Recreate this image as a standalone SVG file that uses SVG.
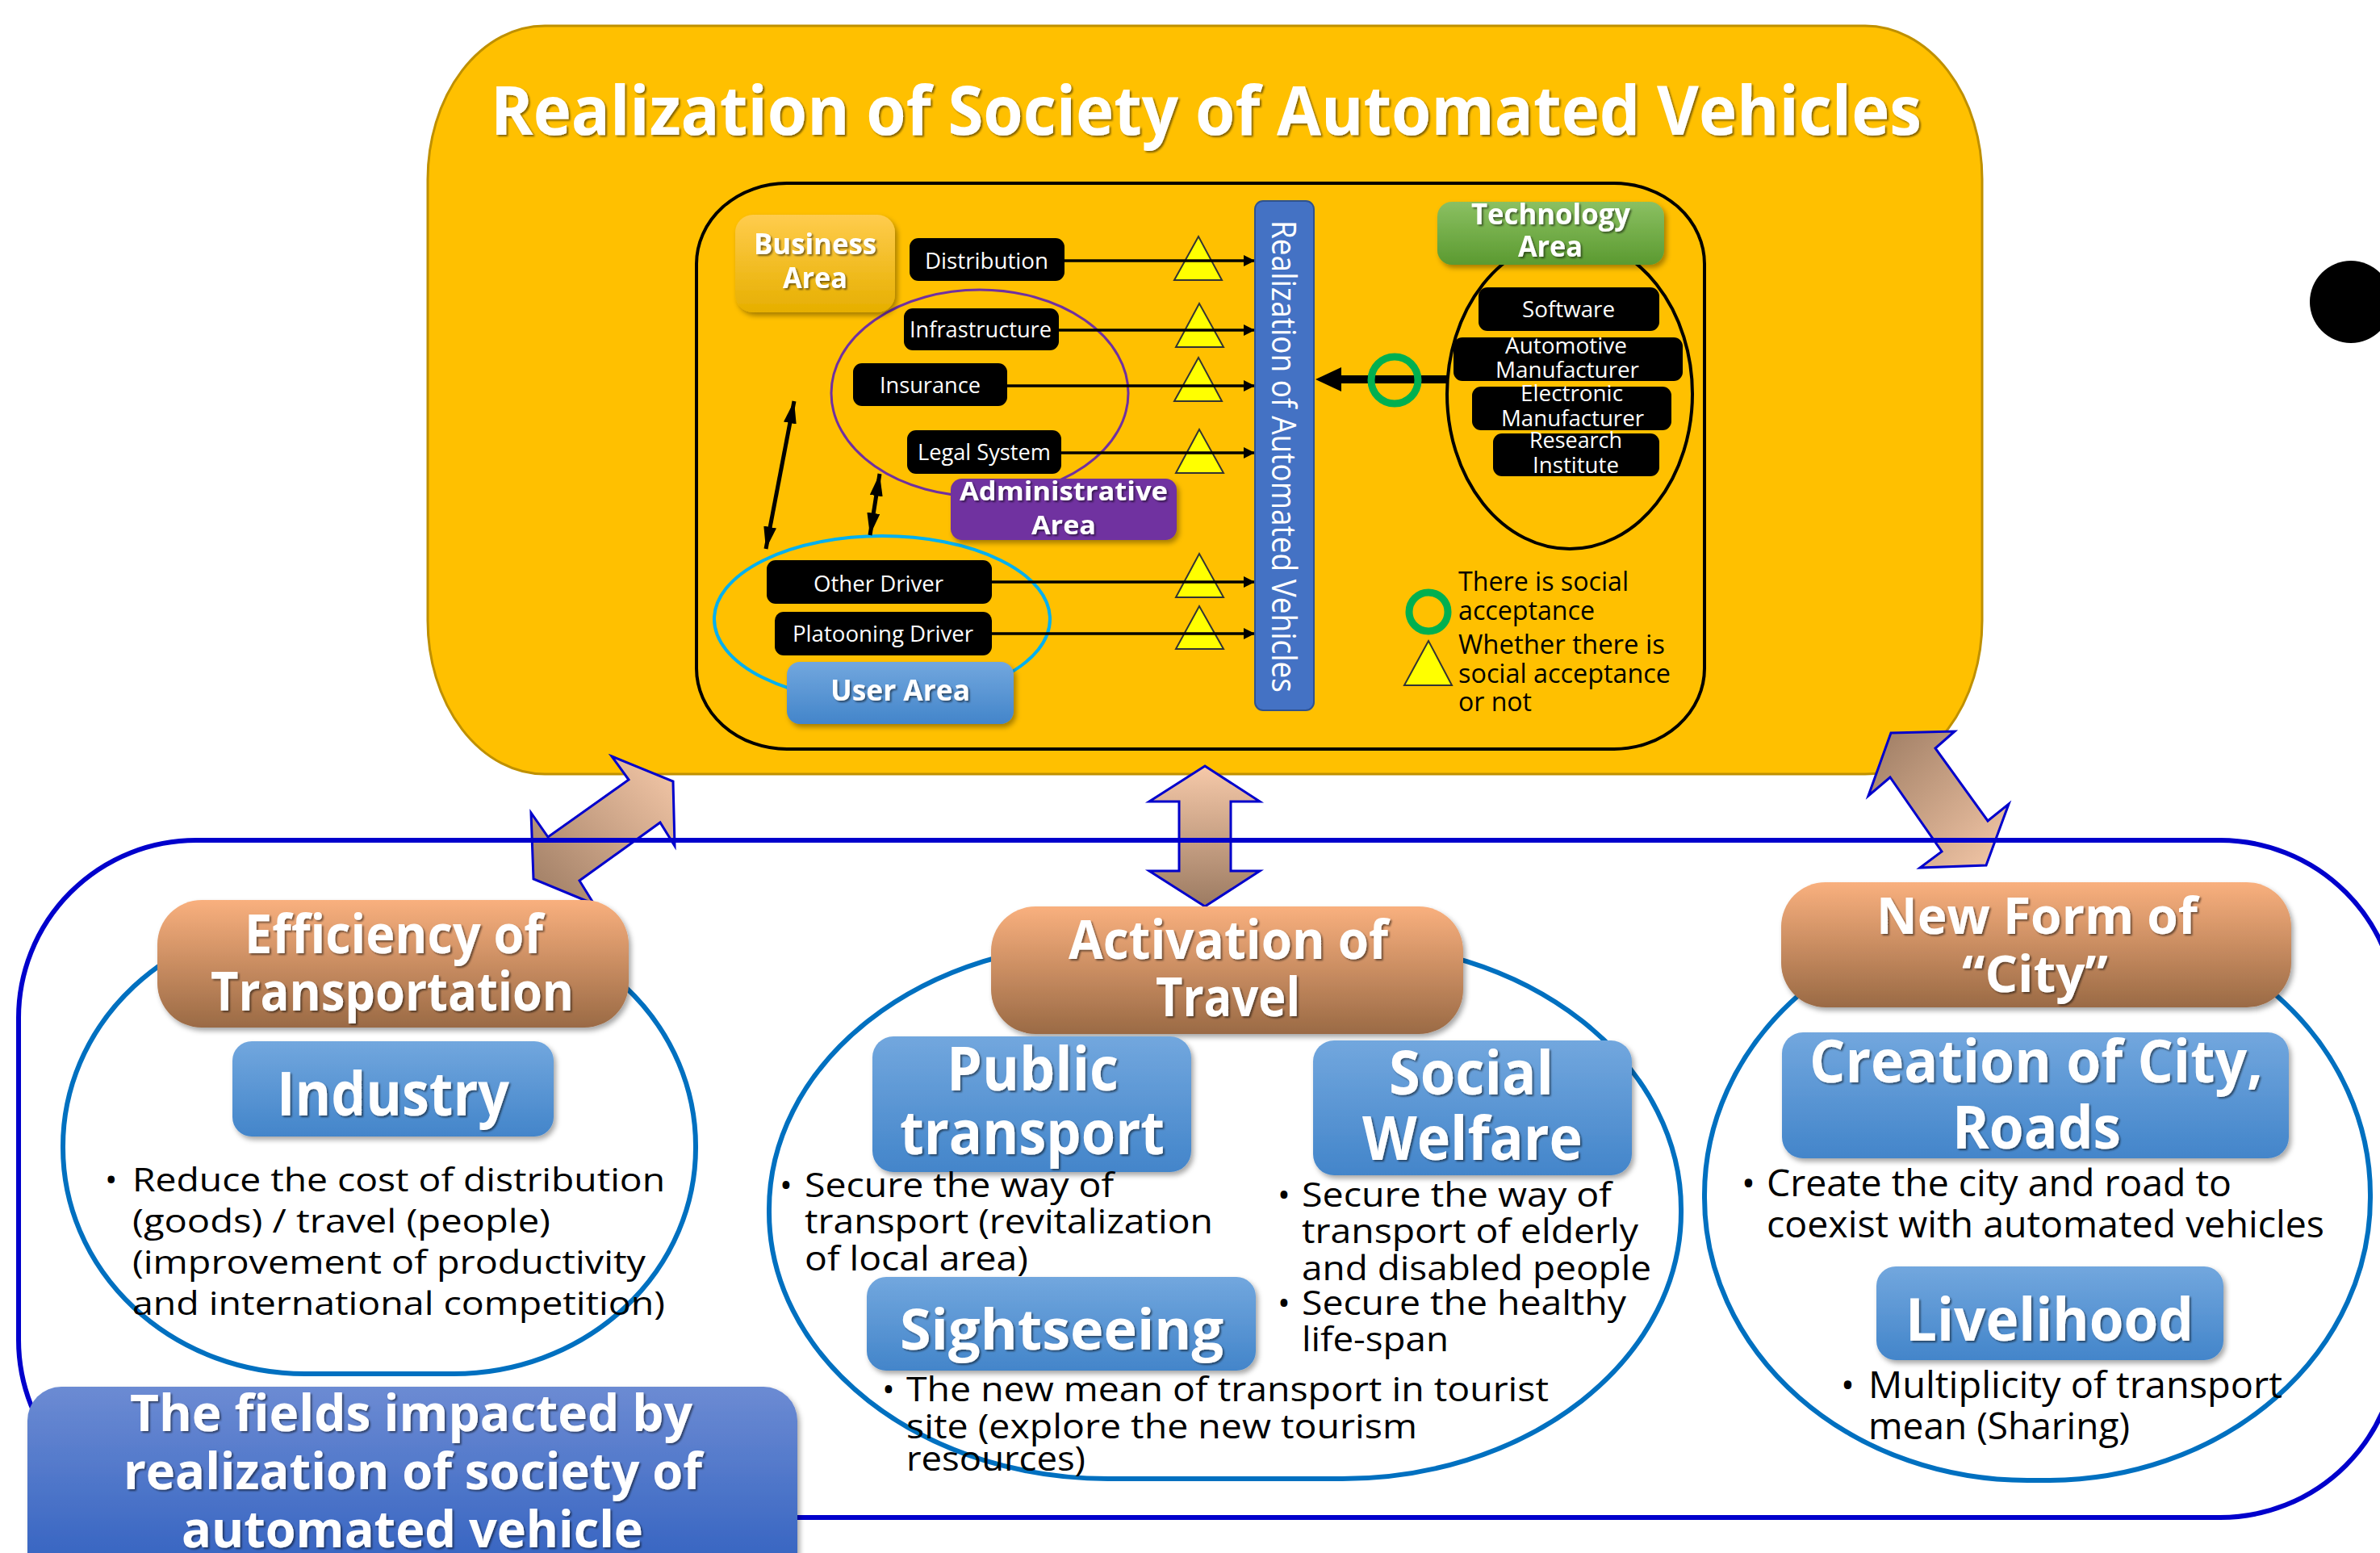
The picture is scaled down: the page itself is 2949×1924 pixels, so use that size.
<svg xmlns="http://www.w3.org/2000/svg" width="2949" height="1924" viewBox="0 0 2949 1924">
<defs>
<style>
.t{font-family:"Open Sans","Liberation Sans",sans-serif;}
.wb{fill:#fff;font-weight:700;}
.w{fill:#fff;}
.k{fill:#000;}
.blk{fill:#000;}
.tri{fill:#FFFF00;stroke:#333;stroke-width:2;}
.hl{stroke:#000;stroke-width:3.5;fill:none;}
.circ{fill:#fff;stroke:#0070C0;stroke-width:6;}
.barrow{stroke:#0000CC;stroke-width:3;}
</style>
<linearGradient id="gOrange" x1="0" y1="0" x2="0" y2="1"><stop offset="0" stop-color="#F9B07E"/><stop offset="1" stop-color="#9A6A45"/></linearGradient>
<linearGradient id="gBlue" x1="0" y1="0" x2="0" y2="1"><stop offset="0" stop-color="#72A7DE"/><stop offset="1" stop-color="#4385CA"/></linearGradient>
<linearGradient id="gFields" x1="0" y1="0" x2="0" y2="1"><stop offset="0" stop-color="#6C8BD3"/><stop offset="1" stop-color="#2C5DBE"/></linearGradient>
<linearGradient id="gGold" x1="0" y1="0" x2="0" y2="1"><stop offset="0" stop-color="#FFCC4D"/><stop offset="1" stop-color="#E6AF00"/></linearGradient>
<linearGradient id="gGreen" x1="0" y1="0" x2="0" y2="1"><stop offset="0" stop-color="#8BC062"/><stop offset="1" stop-color="#5B9A30"/></linearGradient>
<linearGradient id="gArrV" x1="0" y1="0" x2="0" y2="1"><stop offset="0" stop-color="#F6C9A9"/><stop offset="1" stop-color="#9C7B62"/></linearGradient>
<linearGradient id="gArrL" x1="1" y1="0" x2="0" y2="1"><stop offset="0" stop-color="#F6C9A9"/><stop offset="1" stop-color="#9C7B62"/></linearGradient>
<linearGradient id="gArrR" x1="0" y1="0" x2="1" y2="1"><stop offset="0" stop-color="#9C7B62"/><stop offset="1" stop-color="#F6C9A9"/></linearGradient>
<filter id="ts" x="-5%" y="-30%" width="110%" height="160%"><feDropShadow dx="2" dy="2" stdDeviation="1" flood-color="#000" flood-opacity="0.5"/></filter>
<filter id="bs" x="-10%" y="-10%" width="120%" height="130%"><feDropShadow dx="3" dy="4" stdDeviation="3" flood-color="#000" flood-opacity="0.35"/></filter>
<marker id="ah" viewBox="0 0 10 10" refX="10" refY="5" markerWidth="4" markerHeight="4" orient="auto" markerUnits="strokeWidth"><path d="M0,0 L10,5 L0,10 z" fill="#000"/></marker>
<marker id="ah2" viewBox="0 0 10 10" refX="10" refY="5" markerWidth="5.5" markerHeight="3.2" orient="auto-start-reverse" markerUnits="strokeWidth" preserveAspectRatio="none"><path d="M0,0 L10,5 L0,10 z" fill="#000"/></marker>
</defs>

<!-- top main area -->
<g id="main-area">
<rect x="530" y="32" width="1926" height="927" rx="145" ry="190" fill="#FFC000" stroke="#BF9000" stroke-width="3"/>
<text class="t wb" x="608" y="167" font-size="84" textLength="1773" lengthAdjust="spacingAndGlyphs" filter="url(#ts)">Realization of Society of Automated Vehicles</text>
<rect x="863" y="227" width="1249" height="701" rx="112" ry="100" fill="none" stroke="#000" stroke-width="4"/>
</g>

<g id="ellipses">
<ellipse cx="1214" cy="487" rx="184" ry="128" fill="none" stroke="#7030A0" stroke-width="3"/>
<ellipse cx="1093" cy="767" rx="208" ry="103" fill="none" stroke="#00B0F0" stroke-width="4"/>
<ellipse cx="1945" cy="488" rx="152" ry="192" fill="none" stroke="#000" stroke-width="4"/>
</g>

<g id="triangles">
<polygon class="tri" points="1485,293 1455,347 1514,347"/>
<polygon class="tri" points="1486,376 1457,430 1516,430"/>
<polygon class="tri" points="1485,443 1455,497 1514,497"/>
<polygon class="tri" points="1486,532 1457,586 1516,586"/>
<polygon class="tri" points="1486,686 1457,740 1516,740"/>
<polygon class="tri" points="1486,751 1457,804 1516,804"/>
</g>

<g id="connectors">
<line class="hl" x1="1319" y1="323" x2="1555" y2="323" marker-end="url(#ah)"/>
<line class="hl" x1="1312" y1="409" x2="1555" y2="409" marker-end="url(#ah)"/>
<line class="hl" x1="1248" y1="478" x2="1555" y2="478" marker-end="url(#ah)"/>
<line class="hl" x1="1315" y1="561" x2="1555" y2="561" marker-end="url(#ah)"/>
<line class="hl" x1="1229" y1="721" x2="1555" y2="721" marker-end="url(#ah)"/>
<line class="hl" x1="1229" y1="785" x2="1555" y2="785" marker-end="url(#ah)"/>
<line x1="984" y1="497" x2="949" y2="680" stroke="#000" stroke-width="5" marker-start="url(#ah2)" marker-end="url(#ah2)"/>
<line x1="1090" y1="587" x2="1078" y2="663" stroke="#000" stroke-width="5" marker-start="url(#ah2)" marker-end="url(#ah2)"/>
<line x1="1793" y1="470" x2="1658" y2="470" stroke="#000" stroke-width="10"/>
<polygon points="1630,470 1662,455 1662,485" fill="#000"/>
<circle cx="1728" cy="471" r="29" fill="none" stroke="#00B050" stroke-width="9"/>
<polygon class="barrow" fill="url(#gArrL)" points="758,937 834,968 836,1048 818,1019 718,1091 736,1120 661,1089 658,1007 679,1037 779,966"/>
<polygon class="barrow" fill="url(#gArrV)" points="1493,949 1561,993 1525,993 1525,1079 1561,1079 1493,1123 1424,1079 1461,1079 1461,993 1424,993"/>
<polygon class="barrow" fill="url(#gArrR)" points="2343,908 2422,906 2398,927 2463,1017 2489,996 2461,1072 2379,1075 2406,1055 2342,963 2315,986"/>
</g>

<g id="business-area">
<rect x="911" y="266" width="198" height="121" rx="22" fill="url(#gGold)" filter="url(#bs)"/>
<text class="t wb" x="934" y="315" font-size="35" textLength="152" lengthAdjust="spacingAndGlyphs" filter="url(#ts)">Business</text>
<text class="t wb" x="970" y="357" font-size="35" textLength="80" lengthAdjust="spacingAndGlyphs" filter="url(#ts)">Area</text>
</g>
<g id="distribution">
<rect class="blk" x="1127" y="295" width="192" height="53" rx="11"/>
<text class="t w" x="1146" y="333" font-size="28" textLength="153" lengthAdjust="spacingAndGlyphs">Distribution</text>
</g>
<g id="infrastructure">
<rect class="blk" x="1120" y="382" width="192" height="52" rx="11"/>
<text class="t w" x="1127" y="418" font-size="28" textLength="176" lengthAdjust="spacingAndGlyphs">Infrastructure</text>
</g>
<g id="insurance">
<rect class="blk" x="1057" y="450" width="191" height="53" rx="11"/>
<text class="t w" x="1090" y="487" font-size="28" textLength="125" lengthAdjust="spacingAndGlyphs">Insurance</text>
</g>
<g id="legal-system">
<rect class="blk" x="1124" y="533" width="191" height="54" rx="11"/>
<text class="t w" x="1137" y="570" font-size="28" textLength="165" lengthAdjust="spacingAndGlyphs">Legal System</text>
</g>
<g id="administrative-area">
<rect x="1178" y="593" width="280" height="76" rx="14" fill="#7030A0" filter="url(#bs)"/>
<text class="t wb" x="1189" y="620" font-size="33" textLength="258" lengthAdjust="spacingAndGlyphs" filter="url(#ts)">Administrative</text>
<text class="t wb" x="1278" y="662" font-size="33" textLength="80" lengthAdjust="spacingAndGlyphs" filter="url(#ts)">Area</text>
</g>
<g id="other-driver">
<rect class="blk" x="950" y="694" width="279" height="54" rx="11"/>
<text class="t w" x="1008" y="733" font-size="28" textLength="161" lengthAdjust="spacingAndGlyphs">Other Driver</text>
</g>
<g id="platooning-driver">
<rect class="blk" x="960" y="758" width="269" height="54" rx="11"/>
<text class="t w" x="982" y="795" font-size="28" textLength="224" lengthAdjust="spacingAndGlyphs">Platooning Driver</text>
</g>
<g id="user-area">
<rect x="975" y="820" width="281" height="77" rx="16" fill="url(#gBlue)" filter="url(#bs)"/>
<text class="t wb" x="1029" y="868" font-size="35" textLength="173" lengthAdjust="spacingAndGlyphs" filter="url(#ts)">User Area</text>
</g>
<g id="realization-bar">
<rect x="1555" y="249" width="73" height="631" rx="10" fill="#4472C4" stroke="#2F528F" stroke-width="2"/>
<text class="t w" transform="translate(1591,565.5) rotate(90)" x="-292.5" y="15" font-size="42" textLength="585" lengthAdjust="spacingAndGlyphs">Realization of Automated Vehicles</text>
</g>
<g id="technology-area">
<rect x="1781" y="250" width="281" height="78" rx="18" fill="url(#gGreen)" filter="url(#bs)"/>
<text class="t wb" x="1823" y="278" font-size="35" textLength="197" lengthAdjust="spacingAndGlyphs" filter="url(#ts)">Technology</text>
<text class="t wb" x="1881" y="318" font-size="35" textLength="80" lengthAdjust="spacingAndGlyphs" filter="url(#ts)">Area</text>
</g>
<g id="software">
<rect class="blk" x="1832" y="356" width="224" height="54" rx="11"/>
<text class="t w" x="1886" y="393" font-size="28" textLength="115" lengthAdjust="spacingAndGlyphs">Software</text>
</g>
<g id="automotive-manufacturer">
<rect class="blk" x="1801" y="418" width="284" height="54" rx="11"/>
<text class="t w" x="1865" y="438" font-size="28" textLength="151" lengthAdjust="spacingAndGlyphs">Automotive</text>
<text class="t w" x="1853" y="468" font-size="28" textLength="178" lengthAdjust="spacingAndGlyphs">Manufacturer</text>
</g>
<g id="electronic-manufacturer">
<rect class="blk" x="1824" y="479" width="247" height="54" rx="11"/>
<text class="t w" x="1884" y="497" font-size="28" textLength="127" lengthAdjust="spacingAndGlyphs">Electronic</text>
<text class="t w" x="1860" y="528" font-size="28" textLength="177" lengthAdjust="spacingAndGlyphs">Manufacturer</text>
</g>
<g id="research-institute">
<rect class="blk" x="1850" y="537" width="206" height="53" rx="11"/>
<text class="t w" x="1895" y="555" font-size="28" textLength="115" lengthAdjust="spacingAndGlyphs">Research</text>
<text class="t w" x="1899" y="586" font-size="28" textLength="107" lengthAdjust="spacingAndGlyphs">Institute</text>
</g>
<g id="legend">
<circle cx="1770" cy="758" r="24" fill="none" stroke="#00B050" stroke-width="9"/>
<polygon class="tri" points="1770,794 1740,849 1799,849"/>
<text class="t k" x="1807" y="732" font-size="32" textLength="211" lengthAdjust="spacingAndGlyphs">There is social</text>
<text class="t k" x="1807" y="768" font-size="32" textLength="169" lengthAdjust="spacingAndGlyphs">acceptance</text>
<text class="t k" x="1807" y="810" font-size="32" textLength="256" lengthAdjust="spacingAndGlyphs">Whether there is</text>
<text class="t k" x="1807" y="846" font-size="32" textLength="263" lengthAdjust="spacingAndGlyphs">social acceptance</text>
<text class="t k" x="1807" y="881" font-size="32" textLength="91" lengthAdjust="spacingAndGlyphs">or not</text>
</g>

<!-- lower area -->
<g id="fields-frame">
<rect x="23" y="1041" width="2948" height="839" rx="220" ry="220" fill="none" stroke="#0000CC" stroke-width="6"/>
</g>

<g id="efficiency">
<rect class="circ" x="78" y="1140" width="784" height="562" rx="300" ry="280"/>
<rect x="195" y="1115" width="584" height="158" rx="55" fill="url(#gOrange)" filter="url(#bs)"/>
<text class="t wb" x="303" y="1181" font-size="66" textLength="370" lengthAdjust="spacingAndGlyphs" filter="url(#ts)">Efficiency of</text>
<text class="t wb" x="261" y="1252" font-size="66" textLength="450" lengthAdjust="spacingAndGlyphs" filter="url(#ts)">Transportation</text>
<rect x="288" y="1290" width="398" height="118" rx="24" fill="url(#gBlue)" filter="url(#bs)"/>
<text class="t wb" x="343" y="1382" font-size="76" textLength="288" lengthAdjust="spacingAndGlyphs" filter="url(#ts)">Industry</text>
<text class="t k" x="130" y="1476" font-size="41">•</text>
<text class="t k" x="164" y="1476" font-size="41" textLength="660" lengthAdjust="spacingAndGlyphs">Reduce the cost of distribution</text>
<text class="t k" x="164" y="1527" font-size="41" textLength="518" lengthAdjust="spacingAndGlyphs">(goods) / travel (people)</text>
<text class="t k" x="164" y="1578" font-size="41" textLength="636" lengthAdjust="spacingAndGlyphs">(improvement of productivity</text>
<text class="t k" x="164" y="1629" font-size="41" textLength="660" lengthAdjust="spacingAndGlyphs">and international competition)</text>
</g>

<g id="activation">
<rect class="circ" x="953" y="1168" width="1130" height="664" rx="420" ry="330"/>
<rect x="1228" y="1123" width="585" height="158" rx="55" fill="url(#gOrange)" filter="url(#bs)"/>
<text class="t wb" x="1324" y="1188" font-size="66" textLength="396" lengthAdjust="spacingAndGlyphs" filter="url(#ts)">Activation of</text>
<text class="t wb" x="1432" y="1259" font-size="66" textLength="179" lengthAdjust="spacingAndGlyphs" filter="url(#ts)">Travel</text>
<rect x="1081" y="1284" width="395" height="168" rx="26" fill="url(#gBlue)" filter="url(#bs)"/>
<text class="t wb" x="1173" y="1351" font-size="76" textLength="213" lengthAdjust="spacingAndGlyphs" filter="url(#ts)">Public</text>
<text class="t wb" x="1115" y="1430" font-size="76" textLength="328" lengthAdjust="spacingAndGlyphs" filter="url(#ts)">transport</text>
<rect x="1627" y="1289" width="395" height="167" rx="26" fill="url(#gBlue)" filter="url(#bs)"/>
<text class="t wb" x="1721" y="1356" font-size="76" textLength="204" lengthAdjust="spacingAndGlyphs" filter="url(#ts)">Social</text>
<text class="t wb" x="1688" y="1437" font-size="76" textLength="273" lengthAdjust="spacingAndGlyphs" filter="url(#ts)">Welfare</text>
<text class="t k" x="966" y="1483" font-size="42">•</text>
<text class="t k" x="997" y="1483" font-size="42" textLength="383" lengthAdjust="spacingAndGlyphs">Secure the way of</text>
<text class="t k" x="997" y="1528" font-size="42" textLength="506" lengthAdjust="spacingAndGlyphs">transport (revitalization</text>
<text class="t k" x="997" y="1574" font-size="42" textLength="277" lengthAdjust="spacingAndGlyphs">of local area)</text>
<text class="t k" x="1583" y="1495" font-size="42">•</text>
<text class="t k" x="1613" y="1495" font-size="42" textLength="384" lengthAdjust="spacingAndGlyphs">Secure the way of</text>
<text class="t k" x="1613" y="1540" font-size="42" textLength="417" lengthAdjust="spacingAndGlyphs">transport of elderly</text>
<text class="t k" x="1613" y="1586" font-size="42" textLength="433" lengthAdjust="spacingAndGlyphs">and disabled people</text>
<text class="t k" x="1583" y="1629" font-size="42">•</text>
<text class="t k" x="1613" y="1629" font-size="42" textLength="402" lengthAdjust="spacingAndGlyphs">Secure the healthy</text>
<text class="t k" x="1613" y="1674" font-size="42" textLength="182" lengthAdjust="spacingAndGlyphs">life-span</text>
<rect x="1074" y="1582" width="482" height="116" rx="24" fill="url(#gBlue)" filter="url(#bs)"/>
<text class="t wb" x="1115" y="1672" font-size="70" textLength="401" lengthAdjust="spacingAndGlyphs" filter="url(#ts)">Sightseeing</text>
<text class="t k" x="1093" y="1736" font-size="42">•</text>
<text class="t k" x="1123" y="1736" font-size="42" textLength="796" lengthAdjust="spacingAndGlyphs">The new mean of transport in tourist</text>
<text class="t k" x="1123" y="1782" font-size="42" textLength="633" lengthAdjust="spacingAndGlyphs">site (explore the new tourism</text>
<text class="t k" x="1123" y="1822" font-size="42" textLength="222" lengthAdjust="spacingAndGlyphs">resources)</text>
</g>

<g id="new-form-city">
<rect class="circ" x="2112" y="1130" width="825" height="704" rx="400" ry="350"/>
<rect x="2207" y="1093" width="632" height="155" rx="55" fill="url(#gOrange)" filter="url(#bs)"/>
<text class="t wb" x="2325" y="1157" font-size="62" textLength="398" lengthAdjust="spacingAndGlyphs" filter="url(#ts)">New Form of</text>
<text class="t wb" x="2431" y="1229" font-size="62" textLength="181" lengthAdjust="spacingAndGlyphs" filter="url(#ts)">“City”</text>
<rect x="2208" y="1279" width="628" height="156" rx="26" fill="url(#gBlue)" filter="url(#bs)"/>
<text class="t wb" x="2242" y="1341" font-size="73" textLength="562" lengthAdjust="spacingAndGlyphs" filter="url(#ts)">Creation of City,</text>
<text class="t wb" x="2419" y="1423" font-size="73" textLength="209" lengthAdjust="spacingAndGlyphs" filter="url(#ts)">Roads</text>
<text class="t k" x="2158" y="1482" font-size="45">•</text>
<text class="t k" x="2189" y="1482" font-size="45" textLength="576" lengthAdjust="spacingAndGlyphs">Create the city and road to</text>
<text class="t k" x="2189" y="1533" font-size="45" textLength="691" lengthAdjust="spacingAndGlyphs">coexist with automated vehicles</text>
<rect x="2325" y="1569" width="430" height="116" rx="24" fill="url(#gBlue)" filter="url(#bs)"/>
<text class="t wb" x="2361" y="1661" font-size="73" textLength="357" lengthAdjust="spacingAndGlyphs" filter="url(#ts)">Livelihood</text>
<text class="t k" x="2281" y="1732" font-size="45">•</text>
<text class="t k" x="2315" y="1732" font-size="45" textLength="513" lengthAdjust="spacingAndGlyphs">Multiplicity of transport</text>
<text class="t k" x="2315" y="1783" font-size="45" textLength="324" lengthAdjust="spacingAndGlyphs">mean (Sharing)</text>
</g>

<g id="fields-label">
<rect x="34" y="1718" width="954" height="260" rx="42" fill="url(#gFields)" filter="url(#bs)"/>
<text class="t wb" x="161" y="1773" font-size="63" textLength="697" lengthAdjust="spacingAndGlyphs" filter="url(#ts)">The fields impacted by</text>
<text class="t wb" x="153" y="1845" font-size="63" textLength="717" lengthAdjust="spacingAndGlyphs" filter="url(#ts)">realization of society of</text>
<text class="t wb" x="225" y="1917" font-size="63" textLength="572" lengthAdjust="spacingAndGlyphs" filter="url(#ts)">automated vehicle</text>
</g>

<g id="dot">
<circle cx="2913" cy="374" r="51" fill="#000"/>
</g>
</svg>
